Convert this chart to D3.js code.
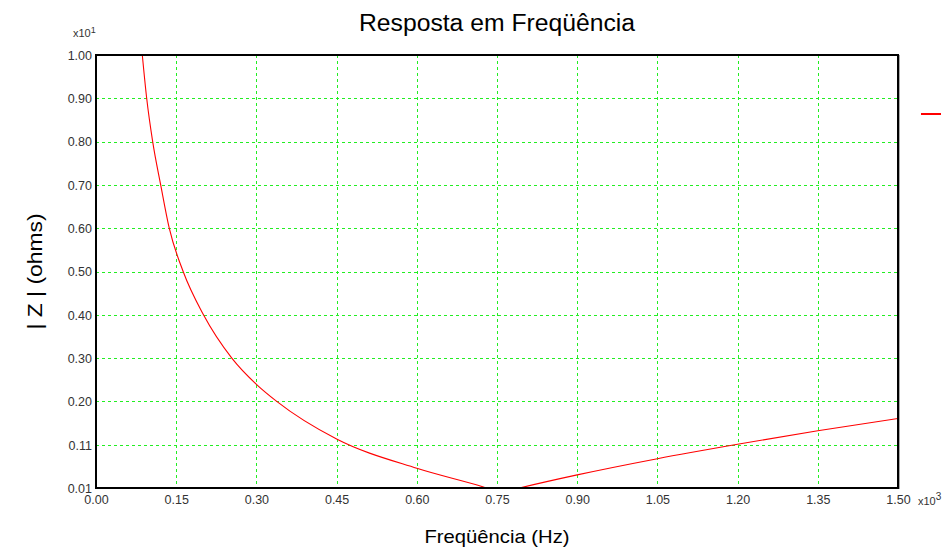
<!DOCTYPE html>
<html>
<head>
<meta charset="utf-8">
<script src="https://cdn.jsdelivr.net/npm/d3@7"></script>
<style>
  html, body { margin: 0; padding: 0; background: #fff; }
  svg { display: block; font-family: "Liberation Sans", Arial, sans-serif; }
</style>
</head>
<body>
<svg id="chart" width="948" height="547"></svg>
<script>
// ---- Data ----
const titleText = "Resposta em Freqüência";
const xTitle = "Freqüência (Hz)";
const yTitle = "| Z | (ohms)";
// Frequency in kHz (axis shown ×10^3), |Z| in units of ×10^1 ohms
const freq = [0.0866, 0.0948, 0.106, 0.121, 0.137, 0.163, 0.201, 0.254, 0.300, 0.338, 0.450, 0.600, 0.7232, 0.758, 0.7917, 0.900, 1.050, 1.200, 1.350, 1.500];
const impedance = [1.00, 0.901, 0.802, 0.703, 0.604, 0.505, 0.406, 0.307, 0.247, 0.208, 0.122, 0.055, 0.013, 0.0, 0.01, 0.040, 0.077, 0.110, 0.141, 0.169];
const xTicks = [0, 0.15, 0.30, 0.45, 0.60, 0.75, 0.90, 1.05, 1.20, 1.35, 1.50];
const xTickLabels = ["0.00", "0.15", "0.30", "0.45", "0.60", "0.75", "0.90", "1.05", "1.20", "1.35", "1.50"];
const yTicks = [0.01, 0.109, 0.208, 0.307, 0.406, 0.505, 0.604, 0.703, 0.802, 0.901, 1.00];
const yTickLabels = ["0.01", "0.11", "0.20", "0.30", "0.40", "0.50", "0.60", "0.70", "0.80", "0.90", "1.00"];

const svg = d3.select("#chart");
const L = 96, R = 898, T = 55, B = 488;

const x = d3.scaleLinear().domain([0, 1.5]).range([L, R]);
const y = d3.scaleLinear().domain([0.01, 1.00]).range([B, T]);

// grid
const grid = svg.append("g");
grid.selectAll("line.vx").data(xTicks.slice(1, -1)).join("line")
  .attr("x1", d => Math.round(x(d)) + 0.5).attr("x2", d => Math.round(x(d)) + 0.5).attr("y1", T).attr("y2", B)
  .attr("stroke", "#22ee22").attr("stroke-width", 1).attr("stroke-dasharray", "3,3")
  .attr("shape-rendering", "crispEdges");
grid.selectAll("line.hy").data(yTicks.slice(1, -1)).join("line")
  .attr("y1", d => Math.round(y(d)) + 0.5).attr("y2", d => Math.round(y(d)) + 0.5).attr("x1", L).attr("x2", R)
  .attr("stroke", "#22ee22").attr("stroke-width", 1).attr("stroke-dasharray", "3,3")
  .attr("shape-rendering", "crispEdges");

// clip
svg.append("clipPath").attr("id", "clip").append("rect")
  .attr("x", L).attr("y", T).attr("width", R - L).attr("height", B - T);

const pts = freq.map((f, i) => [f, impedance[i]]);
const line = d3.line().x(d => x(d[0])).y(d => y(d[1])).curve(d3.curveMonotoneX);
svg.append("path").datum(pts)
  .attr("clip-path", "url(#clip)")
  .attr("d", line).attr("fill", "none").attr("stroke", "#ff0000").attr("stroke-width", 1.1);

// frame
svg.append("rect").attr("x", L).attr("y", T).attr("width", R - L).attr("height", B - T)
  .attr("fill", "none").attr("stroke", "#000").attr("stroke-width", 2);
svg.append("line").attr("x1", R + 1.5).attr("x2", R + 1.5).attr("y1", T).attr("y2", B + 1)
  .attr("stroke", "#aaa").attr("stroke-width", 1);

// axes via d3 axis generators (labels only)
const xAxis = d3.axisBottom(x).tickValues(xTicks).tickSize(0).tickPadding(0)
  .tickFormat((d, i) => xTickLabels[i]);
const gx = svg.append("g").attr("transform", `translate(0,${B + 3})`).call(xAxis);
gx.select(".domain").remove();
gx.selectAll("text").attr("font-size", 12.5).attr("fill", "#333").attr("font-family", "Liberation Sans, Arial, sans-serif").attr("dy", "1.05em");

const yAxis = d3.axisLeft(y).tickValues(yTicks).tickSize(0).tickPadding(4)
  .tickFormat((d, i) => yTickLabels[i]);
const gy = svg.append("g").attr("transform", `translate(${L},0)`).call(yAxis);
gy.select(".domain").remove();
gy.selectAll("text").attr("font-size", 12.5).attr("fill", "#333").attr("font-family", "Liberation Sans, Arial, sans-serif").attr("dy", "0.35em");

// multipliers
const m1 = svg.append("text").attr("x", 73).attr("y", 37).attr("font-size", 11).attr("fill", "#333");
m1.append("tspan").text("x10");
m1.append("tspan").attr("dy", -4).attr("font-size", 9).text("1");
const m3 = svg.append("text").attr("x", 918).attr("y", 505).attr("font-size", 11).attr("fill", "#333");
m3.append("tspan").text("x10");
m3.append("tspan").attr("dy", -5).attr("font-size", 10).text("3");

// titles
svg.append("text").attr("x", (L + R) / 2).attr("y", 31).attr("text-anchor", "middle")
  .attr("font-size", 23).attr("fill", "#000")
  .attr("textLength", 276).attr("lengthAdjust", "spacingAndGlyphs").text(titleText);
svg.append("text").attr("x", (L + R) / 2).attr("y", 543).attr("text-anchor", "middle")
  .attr("font-size", 19).attr("fill", "#000")
  .attr("textLength", 145).attr("lengthAdjust", "spacingAndGlyphs").text(xTitle);
svg.append("text").attr("transform", `translate(42,${(T + B) / 2}) rotate(-90)`).attr("text-anchor", "middle")
  .attr("font-size", 20).attr("fill", "#000")
  .attr("textLength", 116).attr("lengthAdjust", "spacingAndGlyphs").text(yTitle);

// legend swatch
svg.append("line").attr("x1", 921).attr("x2", 941).attr("y1", 114).attr("y2", 114)
  .attr("stroke", "#ff0000").attr("stroke-width", 2);
</script>
</body>
</html>
